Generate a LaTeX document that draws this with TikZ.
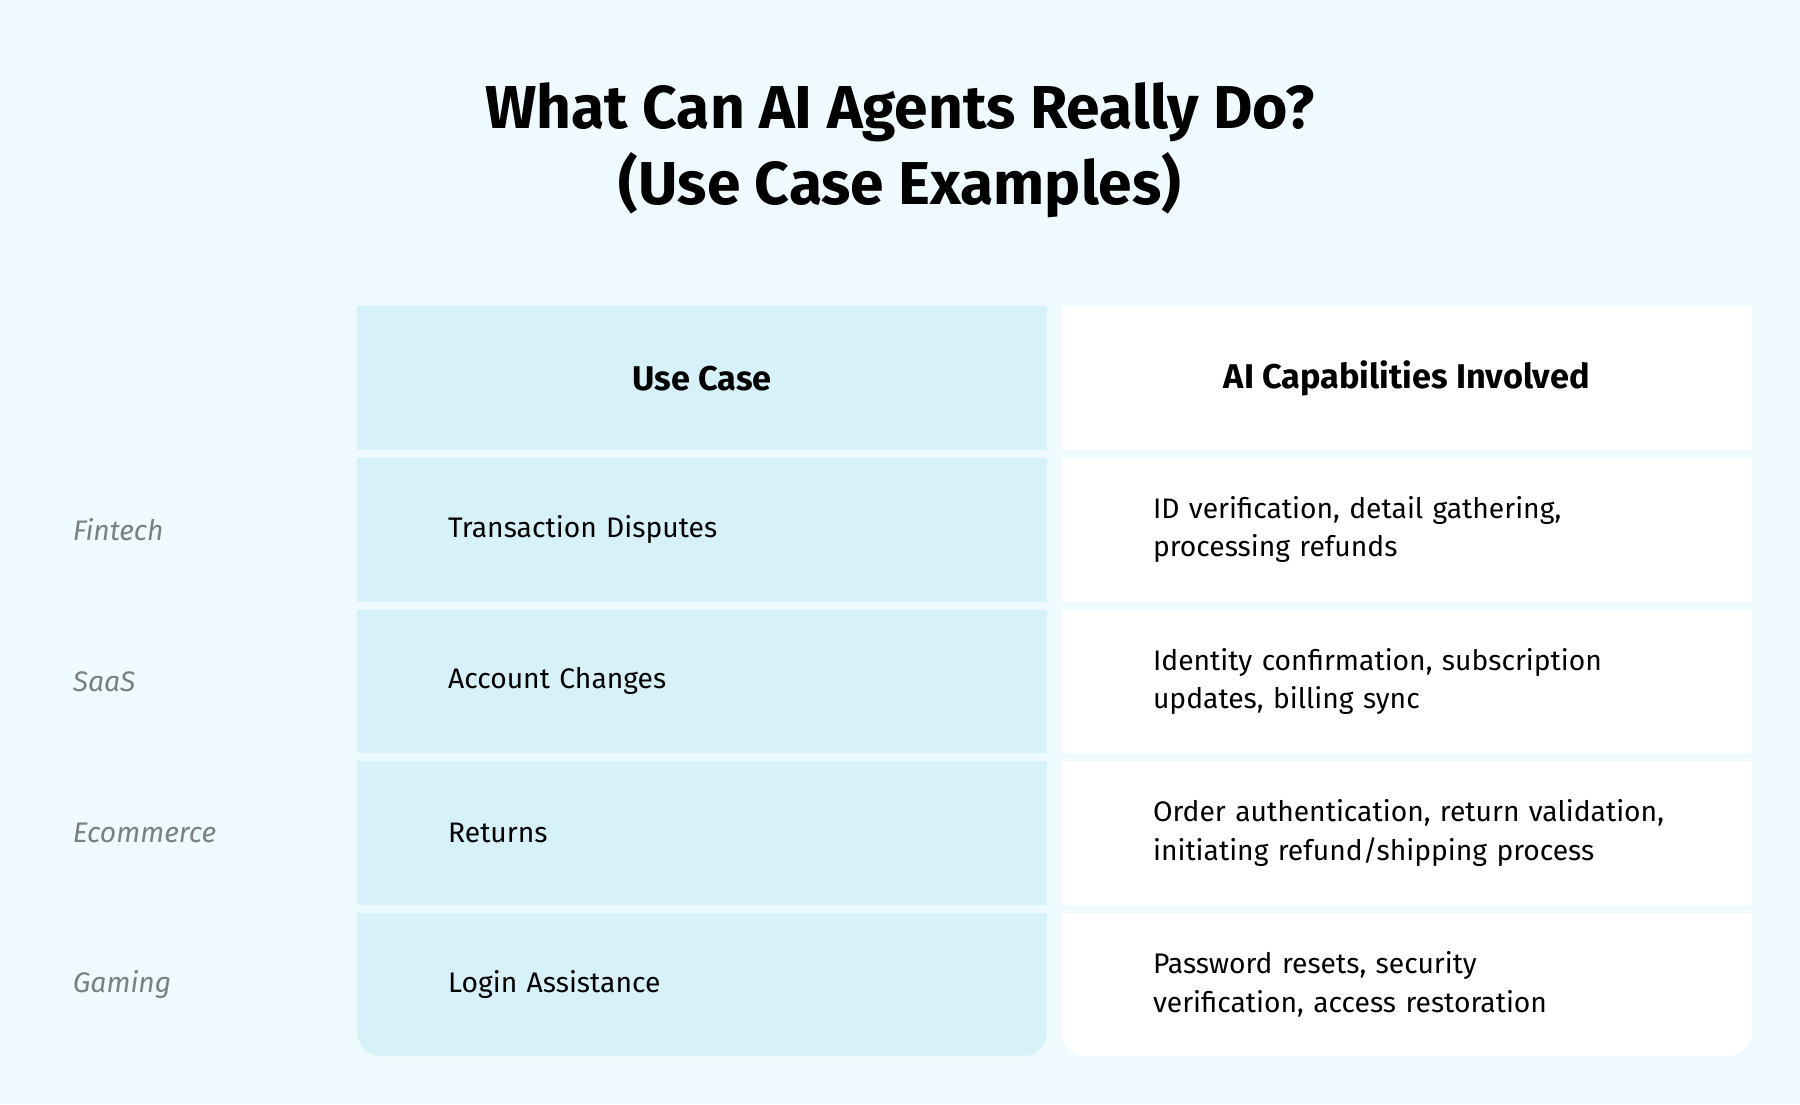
\documentclass[tikz,border=0pt]{standalone}
\usepackage{fontspec}
\setmainfont{Fira Sans}
\usetikzlibrary{positioning}
\definecolor{bgblue}{HTML}{EEFAFE}
\definecolor{caseblue}{HTML}{D6F1F7}
\definecolor{sector}{HTML}{7A7F82}
\tikzset{
  cell/.style={minimum width=6.01cm, minimum height=1.25cm, inner sep=0pt},
  casecell/.style={cell, fill=caseblue},
  capcell/.style={cell, fill=white},
  head/.style={font=\fontsize{8.5}{10}\selectfont\bfseries},
  body/.style={font=\fontsize{7}{9.5}\selectfont, align=left, text width=4.8cm},
  sectorlbl/.style={font=\fontsize{7}{9}\selectfont\itshape, text=sector, anchor=west}
}
\begin{document}
\begin{tikzpicture}[x=0.01cm, y=-0.01cm]
  \fill[bgblue] (0,0) rectangle (1568,962);
  \useasboundingbox (0,0) rectangle (1568,962);

  % title
  \node[font=\fontsize{15}{19}\selectfont\bfseries, align=center] (title) at (784,131)
    {What Can AI Agents Really Do?\\(Use Case Examples)};

  % header row
  \fill[caseblue, rounded corners=6pt] (311,267) rectangle (912,330);
  \fill[white, rounded corners=6pt] (925,267) rectangle (1526,330);
  \node[casecell] (hcase) at (611.5,329.5) {};
  \node[capcell] (hcap) at (1225.5,329.5) {};
  \node[head] at (hcase) {Use Case};
  \node[head] at (hcap) {AI Capabilities Involved};

  % rows
  \node[casecell] (case1) at (611.5,461.5) {};
  \node[capcell] (cap1) at (1225.5,461.5) {};
  \node[casecell] (case2) at (611.5,593.5) {};
  \node[capcell] (cap2) at (1225.5,593.5) {};
  \node[casecell] (case3) at (611.5,725.5) {};
  \node[capcell] (cap3) at (1225.5,725.5) {};
  \fill[caseblue, rounded corners=6pt] (311,850) rectangle (912,920);
  \fill[white, rounded corners=6pt] (925,850) rectangle (1526,920);
  \node[casecell, minimum height=1.1cm] (case4) at (611.5,850) {};
  \node[capcell, minimum height=1.1cm] (cap4) at (1225.5,850) {};

  \node[sectorlbl] at (51,461.5) {Fintech};
  \node[sectorlbl] at (51,593.5) {SaaS};
  \node[sectorlbl] at (51,725.5) {Ecommerce};
  \node[sectorlbl] at (51,857.5) {Gaming};

  \node[body, anchor=west] at (378,461.5) {Transaction Disputes};
  \node[body, anchor=west] at (378,593.5) {Account Changes};
  \node[body, anchor=west] at (378,725.5) {Returns};
  \node[body, anchor=west] at (378,857.5) {Login Assistance};

  \node[body, anchor=west] at (992,461.5) {ID verification, detail gathering,\\processing refunds};
  \node[body, anchor=west] at (992,593.5) {Identity confirmation, subscription\\updates, billing sync};
  \node[body, anchor=west, text width=5.2cm] at (992,725.5) {Order authentication, return validation,\\initiating refund/shipping process};
  \node[body, anchor=west] at (992,857.5) {Password resets, security\\verification, access restoration};
\end{tikzpicture}
\end{document}
